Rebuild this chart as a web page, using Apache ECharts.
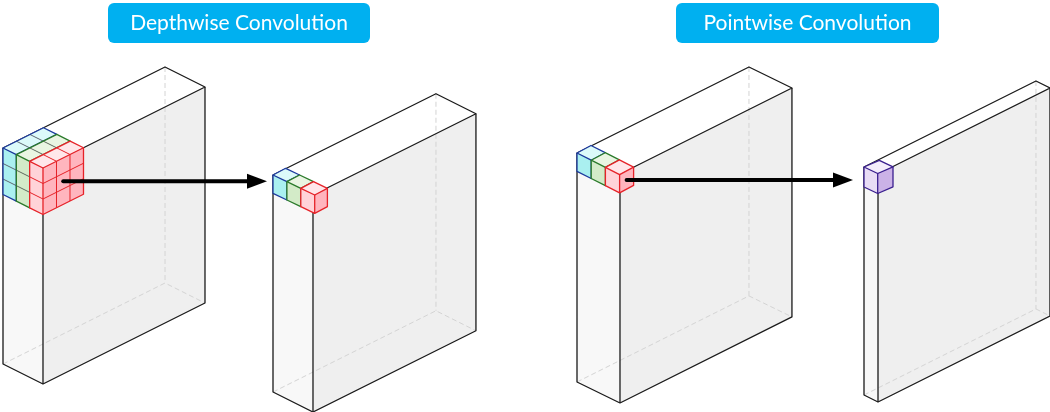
<!DOCTYPE html>
<html>
<head>
<meta charset="utf-8">
<script src="https://cdn.jsdelivr.net/npm/echarts@6/dist/echarts.min.js"></script>
<style>
  html,body{margin:0;padding:0;background:#fff;}
  #convmap{width:1050px;height:412px;}
</style>
</head>
<body>
<div id="convmap"></div>
<script>
// ---- data ----
var titles = ['Depthwise Convolution', 'Pointwise Convolution'];
// feature map blocks: channels (depth), width, height in cells
var layerChannels = [3, 3, 3, 1];
var layerWidths = [12, 12, 12, 12];
var layerHeights = [14, 14, 12, 12];
// kernels / output cells sitting in the top-left corner of a layer
var kernelLayer = [0, 1, 2, 3];
var kernelWidths = [3, 1, 1, 1];
var kernelHeights = [3, 1, 1, 1];
var kernelChannels = [
  ['blue', 'green', 'red'],
  ['blue', 'green', 'red'],
  ['blue', 'green', 'red'],
  ['purple']
];
// arrows: kernel -> layer
var arrowKernel = [0, 2];
var arrowTarget = [1, 3];

// ---- layout (pixel space of the hidden axes) ----
var layout = {
  layerOrigin: [[3, 148], [273, 175], [577, 153], [864, 167]],
  layerGeom: [
    {d: [13.33, 6.67], w: [13.5, -6.75], h: 15.43},
    {d: [13.33, 6.67], w: [13.58, -6.77], h: 15.5},
    {d: [14.33, 7], w: [14.33, -7.17], h: 19.08},
    {d: [14, 7], w: [14.33, -7.17], h: 19}
  ],
  kernelGeom: [
    {d: [13.33, 6.67], w: [13.5, -6.75], h: 15.5},
    {d: [13.9, 6.67], w: [12.7, -6.7], h: 18.3},
    {d: [14.2, 7.2], w: [14, -7.5], h: 18.3},
    {d: [13.7, 6.5], w: [15.3, -6.7], h: 20}
  ],
  arrowGap: [6, 11],
  titleBox: [[108, 3, 262, 40], [676, 3, 263, 40]]
};

var channelStyles = {
  blue:   {side: '#aaf0f0', front: '#a4e8ee', top: '#dcfafa', edge: '#1c3a9e', grid: '#5e6670'},
  green:  {side: '#d3ebc8', front: '#cde6c0', top: '#e9f5e2', edge: '#2a7a2a', grid: '#5e6a5e'},
  red:    {side: '#ffd3d8', front: '#ffb5be', top: '#ffe7ea', edge: '#e62228', grid: '#e62228'},
  purple: {side: '#e8dcf5', front: '#cbb2e7', top: '#f3ecfb', edge: '#3a1f8f', grid: '#3a1f8f'}
};

var Convmap = {

  proj: function(o, g, d, w, h){
    return [o[0] + d * g.d[0] + w * g.w[0], o[1] + d * g.d[1] + w * g.w[1] + h * g.h];
  },

  poly: function(pts, fill){
    return {type: 'polygon', shape: {points: pts}, style: {fill: fill, stroke: null}};
  },

  stroke: function(pts, color, width, dash, closed){
    return {
      type: closed ? 'polygon' : 'polyline',
      shape: {points: pts},
      style: {fill: null, stroke: color, lineWidth: width, lineDash: dash || null, lineJoin: 'round'}
    };
  },

  renderBox: function(params, api){
    var i = api.value(2);
    var o = [api.value(0), api.value(1)];
    var g = layout.layerGeom[i];
    var D = layerChannels[i], W = layerWidths[i], H = layerHeights[i];
    var c = function(d, w, h){ return api.coord(Convmap.proj(o, g, d, w, h)); };
    var edge = '#1a1a1a';
    return {
      type: 'group',
      children: [
        Convmap.poly([c(0,0,0), c(D,0,0), c(D,0,H), c(0,0,H)], '#f8f8f8'),
        Convmap.poly([c(D,0,0), c(D,W,0), c(D,W,H), c(D,0,H)], '#efefef'),
        Convmap.poly([c(0,0,0), c(D,0,0), c(D,W,0), c(0,W,0)], '#ffffff'),
        //hidden edges
        Convmap.stroke([c(0,0,H), c(0,W,H), c(D,W,H)], '#d4d4d4', 1, [5, 3]),
        Convmap.stroke([c(0,W,0), c(0,W,H)], '#d4d4d4', 1, [5, 3]),
        //visible edges
        Convmap.stroke([c(0,0,0), c(D,0,0), c(D,W,0), c(0,W,0)], edge, 1.3, null, true),
        Convmap.stroke([c(0,0,0), c(0,0,H), c(D,0,H), c(D,W,H), c(D,W,0)], edge, 1.3),
        Convmap.stroke([c(D,0,0), c(D,0,H)], edge, 1.3)
      ]
    };
  },

  renderKernel: function(params, api){
    var k = api.value(2);
    var o = [api.value(0), api.value(1)];
    var g = layout.kernelGeom[k];
    var kw = kernelWidths[k], kh = kernelHeights[k];
    var children = [];
    kernelChannels[k].forEach(function(name, ci){
      var s = channelStyles[name];
      var c = function(d, w, h){ return api.coord(Convmap.proj(o, g, ci + d, w, h)); };
      children.push(Convmap.poly([c(0,0,0), c(1,0,0), c(1,0,kh), c(0,0,kh)], s.side));
      children.push(Convmap.poly([c(1,0,0), c(1,kw,0), c(1,kw,kh), c(1,0,kh)], s.front));
      children.push(Convmap.poly([c(0,0,0), c(1,0,0), c(1,kw,0), c(0,kw,0)], s.top));
      for (var j = 1; j < kh; j++){
        children.push(Convmap.stroke([c(0,0,j), c(1,0,j), c(1,kw,j)], s.grid, 1));
      }
      for (var m = 1; m < kw; m++){
        children.push(Convmap.stroke([c(0,m,0), c(1,m,0), c(1,m,kh)], s.grid, 1));
      }
      children.push(Convmap.stroke([c(0,0,0), c(1,0,0), c(1,kw,0), c(0,kw,0)], s.edge, 1.3, null, true));
      children.push(Convmap.stroke([c(0,0,0), c(0,0,kh), c(1,0,kh), c(1,kw,kh), c(1,kw,0)], s.edge, 1.3));
      children.push(Convmap.stroke([c(1,0,0), c(1,0,kh)], s.edge, 1.3));
    });
    return {type: 'group', children: children};
  },

  renderArrow: function(params, api){
    var p1 = api.coord([api.value(0), api.value(1)]);
    var p2 = api.coord([api.value(2), api.value(1)]);
    var headLen = 20, headHalf = 7.5;
    return {
      type: 'group',
      children: [
        {type: 'line', shape: {x1: p1[0], y1: p1[1], x2: p2[0] - headLen + 2, y2: p2[1]},
         style: {stroke: '#000', lineWidth: 4, lineCap: 'round'}},
        {type: 'polygon', shape: {points: [[p2[0], p2[1]], [p2[0] - headLen, p2[1] - headHalf], [p2[0] - headLen, p2[1] + headHalf]]},
         style: {fill: '#000'}}
      ]
    };
  },

  chartOptionfun: function(){
    var boxData = [];
    for (var i = 0; i < layerChannels.length; i++){
      boxData.push([layout.layerOrigin[i][0], layout.layerOrigin[i][1], i]);
    }
    var kernelData = [];
    for (var k = 0; k < kernelLayer.length; k++){
      var lo = layout.layerOrigin[kernelLayer[k]];
      kernelData.push([lo[0], lo[1], k]);
    }
    var arrowData = [];
    for (var a = 0; a < arrowKernel.length; a++){
      var kk = arrowKernel[a];
      var ko = layout.layerOrigin[kernelLayer[kk]];
      // centre of the kernel's front face
      var start = Convmap.proj(ko, layout.kernelGeom[kk], kernelChannels[kk].length,
                               kernelWidths[kk] / 2, kernelHeights[kk] / 2);
      var endX = layout.layerOrigin[arrowTarget[a]][0] - layout.arrowGap[a];
      arrowData.push([start[0], start[1], endX]);
    }

    var graphics = [];
    for (var t = 0; t < titles.length; t++){
      var b = layout.titleBox[t];
      graphics.push({
        type: 'group', left: b[0], top: b[1],
        children: [
          {type: 'rect', shape: {x: 0, y: 0, width: b[2], height: b[3], r: 6}, style: {fill: '#00b0f0'}},
          {type: 'text', x: b[2] / 2, y: b[3] / 2,
           style: {text: titles[t], fill: '#fff', font: '21px Lato', textAlign: 'center', textVerticalAlign: 'middle'}}
        ]
      });
    }

    var option = {
      backgroundColor: '#ffffff',
      animation: false,
      grid: {left: 0, right: 0, top: 0, bottom: 0},
      xAxis: {type: 'value', min: 0, max: 1050, show: false},
      yAxis: {type: 'value', min: 0, max: 412, inverse: true, show: false},
      graphic: graphics,
      series: [
        {type: 'custom', name: 'layers', renderItem: Convmap.renderBox, data: boxData, z: 2, silent: true},
        {type: 'custom', name: 'kernels', renderItem: Convmap.renderKernel, data: kernelData, z: 3, silent: true},
        {type: 'custom', name: 'arrows', renderItem: Convmap.renderArrow, data: arrowData, z: 4, silent: true}
      ]
    };
    return option;
  },

  init: function(){
    var myChart = echarts.init(document.getElementById('convmap'));
    myChart.setOption(Convmap.chartOptionfun(), true);
  }
};

window.onload = function(){
  Convmap.init();
};
</script>
</body>
</html>
